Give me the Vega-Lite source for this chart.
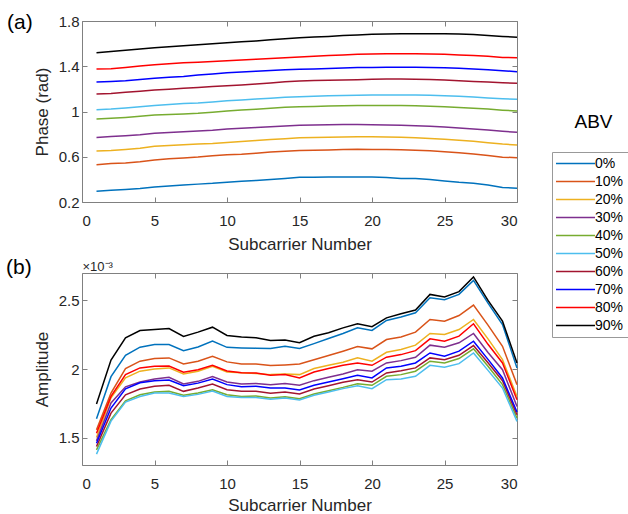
{
"$schema":"https://vega.github.io/schema/vega-lite/v6.json",
"padding":{"left":6,"top":12,"right":0,"bottom":0},
"config":{"font":"Liberation Sans","view":{"stroke":null},
"axis":{"domainColor":"#808080","tickColor":"#808080","labelColor":"#262626","titleColor":"#262626","labelFontSize":15,"titleFontSize":17,"titleFontWeight":"normal","grid":false,"tickSize":-5},
"concat":{"spacing":5}},
"datasets":{"d":[
{"g":"0%","x":1,"p":0.296,"a":1.637},{"g":"0%","x":2,"p":0.303,"a":1.944},{"g":"0%","x":3,"p":0.311,"a":2.1},{"g":"0%","x":4,"p":0.32,"a":2.159},{"g":"0%","x":5,"p":0.333,"a":2.178},{"g":"0%","x":6,"p":0.341,"a":2.178},{"g":"0%","x":7,"p":0.35,"a":2.134},{"g":"0%","x":8,"p":0.358,"a":2.161},{"g":"0%","x":9,"p":0.365,"a":2.203},{"g":"0%","x":10,"p":0.375,"a":2.158},{"g":"0%","x":11,"p":0.383,"a":2.154},{"g":"0%","x":12,"p":0.39,"a":2.152},{"g":"0%","x":13,"p":0.398,"a":2.15},{"g":"0%","x":14,"p":0.408,"a":2.166},{"g":"0%","x":15,"p":0.418,"a":2.15},{"g":"0%","x":16,"p":0.419,"a":2.185},{"g":"0%","x":17,"p":0.42,"a":2.222},{"g":"0%","x":18,"p":0.421,"a":2.259},{"g":"0%","x":19,"p":0.422,"a":2.3},{"g":"0%","x":20,"p":0.42,"a":2.281},{"g":"0%","x":21,"p":0.416,"a":2.354},{"g":"0%","x":22,"p":0.408,"a":2.379},{"g":"0%","x":23,"p":0.408,"a":2.41},{"g":"0%","x":24,"p":0.398,"a":2.52},{"g":"0%","x":25,"p":0.385,"a":2.505},{"g":"0%","x":26,"p":0.374,"a":2.544},{"g":"0%","x":27,"p":0.366,"a":2.646},{"g":"0%","x":28,"p":0.35,"a":2.48},{"g":"0%","x":29,"p":0.328,"a":2.324},{"g":"0%","x":30,"p":0.322,"a":2.008},
{"g":"10%","x":1,"p":0.529,"a":1.556},{"g":"10%","x":2,"p":0.54,"a":1.825},{"g":"10%","x":3,"p":0.545,"a":2.003},{"g":"10%","x":4,"p":0.556,"a":2.057},{"g":"10%","x":5,"p":0.571,"a":2.076},{"g":"10%","x":6,"p":0.582,"a":2.081},{"g":"10%","x":7,"p":0.59,"a":2.037},{"g":"10%","x":8,"p":0.597,"a":2.057},{"g":"10%","x":9,"p":0.608,"a":2.093},{"g":"10%","x":10,"p":0.618,"a":2.052},{"g":"10%","x":11,"p":0.622,"a":2.037},{"g":"10%","x":12,"p":0.632,"a":2.037},{"g":"10%","x":13,"p":0.642,"a":2.025},{"g":"10%","x":14,"p":0.648,"a":2.03},{"g":"10%","x":15,"p":0.655,"a":2.037},{"g":"10%","x":16,"p":0.658,"a":2.068},{"g":"10%","x":17,"p":0.66,"a":2.098},{"g":"10%","x":18,"p":0.663,"a":2.13},{"g":"10%","x":19,"p":0.667,"a":2.164},{"g":"10%","x":20,"p":0.665,"a":2.147},{"g":"10%","x":21,"p":0.664,"a":2.215},{"g":"10%","x":22,"p":0.662,"a":2.234},{"g":"10%","x":23,"p":0.658,"a":2.269},{"g":"10%","x":24,"p":0.652,"a":2.361},{"g":"10%","x":25,"p":0.644,"a":2.349},{"g":"10%","x":26,"p":0.636,"a":2.39},{"g":"10%","x":27,"p":0.625,"a":2.466},{"g":"10%","x":28,"p":0.612,"a":2.32},{"g":"10%","x":29,"p":0.596,"a":2.166},{"g":"10%","x":30,"p":0.592,"a":1.886},
{"g":"20%","x":1,"p":0.65,"a":1.5},{"g":"20%","x":2,"p":0.655,"a":1.79},{"g":"20%","x":3,"p":0.665,"a":1.935},{"g":"20%","x":4,"p":0.676,"a":1.984},{"g":"20%","x":5,"p":0.692,"a":2.0},{"g":"20%","x":6,"p":0.7,"a":2.008},{"g":"20%","x":7,"p":0.706,"a":1.964},{"g":"20%","x":8,"p":0.712,"a":1.984},{"g":"20%","x":9,"p":0.718,"a":2.02},{"g":"20%","x":10,"p":0.727,"a":1.978},{"g":"20%","x":11,"p":0.735,"a":1.972},{"g":"20%","x":12,"p":0.743,"a":1.967},{"g":"20%","x":13,"p":0.752,"a":1.959},{"g":"20%","x":14,"p":0.76,"a":1.964},{"g":"20%","x":15,"p":0.768,"a":1.959},{"g":"20%","x":16,"p":0.77,"a":2.003},{"g":"20%","x":17,"p":0.772,"a":2.027},{"g":"20%","x":18,"p":0.774,"a":2.049},{"g":"20%","x":19,"p":0.776,"a":2.081},{"g":"20%","x":20,"p":0.777,"a":2.057},{"g":"20%","x":21,"p":0.775,"a":2.122},{"g":"20%","x":22,"p":0.772,"a":2.142},{"g":"20%","x":23,"p":0.768,"a":2.174},{"g":"20%","x":24,"p":0.762,"a":2.259},{"g":"20%","x":25,"p":0.755,"a":2.251},{"g":"20%","x":26,"p":0.746,"a":2.288},{"g":"20%","x":27,"p":0.736,"a":2.361},{"g":"20%","x":28,"p":0.724,"a":2.22},{"g":"20%","x":29,"p":0.712,"a":2.068},{"g":"20%","x":30,"p":0.703,"a":1.8},
{"g":"30%","x":1,"p":0.771,"a":1.476},{"g":"30%","x":2,"p":0.778,"a":1.752},{"g":"30%","x":3,"p":0.786,"a":1.87},{"g":"30%","x":4,"p":0.795,"a":1.905},{"g":"30%","x":5,"p":0.807,"a":1.927},{"g":"30%","x":6,"p":0.815,"a":1.94},{"g":"30%","x":7,"p":0.822,"a":1.891},{"g":"30%","x":8,"p":0.828,"a":1.91},{"g":"30%","x":9,"p":0.835,"a":1.945},{"g":"30%","x":10,"p":0.845,"a":1.905},{"g":"30%","x":11,"p":0.852,"a":1.891},{"g":"30%","x":12,"p":0.858,"a":1.895},{"g":"30%","x":13,"p":0.866,"a":1.886},{"g":"30%","x":14,"p":0.872,"a":1.895},{"g":"30%","x":15,"p":0.878,"a":1.881},{"g":"30%","x":16,"p":0.88,"a":1.915},{"g":"30%","x":17,"p":0.882,"a":1.94},{"g":"30%","x":18,"p":0.884,"a":1.964},{"g":"30%","x":19,"p":0.884,"a":1.995},{"g":"30%","x":20,"p":0.883,"a":1.984},{"g":"30%","x":21,"p":0.881,"a":2.044},{"g":"30%","x":22,"p":0.878,"a":2.061},{"g":"30%","x":23,"p":0.874,"a":2.086},{"g":"30%","x":24,"p":0.869,"a":2.174},{"g":"30%","x":25,"p":0.863,"a":2.159},{"g":"30%","x":26,"p":0.855,"a":2.191},{"g":"30%","x":27,"p":0.846,"a":2.259},{"g":"30%","x":28,"p":0.836,"a":2.12},{"g":"30%","x":29,"p":0.825,"a":1.995},{"g":"30%","x":30,"p":0.816,"a":1.727},
{"g":"40%","x":1,"p":0.933,"a":1.41},{"g":"40%","x":2,"p":0.94,"a":1.63},{"g":"40%","x":3,"p":0.948,"a":1.768},{"g":"40%","x":4,"p":0.958,"a":1.812},{"g":"40%","x":5,"p":0.969,"a":1.832},{"g":"40%","x":6,"p":0.974,"a":1.837},{"g":"40%","x":7,"p":0.979,"a":1.808},{"g":"40%","x":8,"p":0.985,"a":1.825},{"g":"40%","x":9,"p":0.994,"a":1.849},{"g":"40%","x":10,"p":1.004,"a":1.812},{"g":"40%","x":11,"p":1.013,"a":1.8},{"g":"40%","x":12,"p":1.02,"a":1.803},{"g":"40%","x":13,"p":1.028,"a":1.788},{"g":"40%","x":14,"p":1.038,"a":1.798},{"g":"40%","x":15,"p":1.043,"a":1.783},{"g":"40%","x":16,"p":1.045,"a":1.818},{"g":"40%","x":17,"p":1.048,"a":1.842},{"g":"40%","x":18,"p":1.05,"a":1.866},{"g":"40%","x":19,"p":1.052,"a":1.893},{"g":"40%","x":20,"p":1.054,"a":1.881},{"g":"40%","x":21,"p":1.054,"a":1.947},{"g":"40%","x":22,"p":1.053,"a":1.959},{"g":"40%","x":23,"p":1.05,"a":1.984},{"g":"40%","x":24,"p":1.047,"a":2.057},{"g":"40%","x":25,"p":1.043,"a":2.044},{"g":"40%","x":26,"p":1.035,"a":2.076},{"g":"40%","x":27,"p":1.028,"a":2.147},{"g":"40%","x":28,"p":1.022,"a":2.02},{"g":"40%","x":29,"p":1.012,"a":1.886},{"g":"40%","x":30,"p":1.004,"a":1.642},
{"g":"50%","x":1,"p":1.015,"a":1.379},{"g":"50%","x":2,"p":1.022,"a":1.62},{"g":"50%","x":3,"p":1.032,"a":1.759},{"g":"50%","x":4,"p":1.043,"a":1.8},{"g":"50%","x":5,"p":1.054,"a":1.825},{"g":"50%","x":6,"p":1.062,"a":1.825},{"g":"50%","x":7,"p":1.07,"a":1.8},{"g":"50%","x":8,"p":1.076,"a":1.815},{"g":"50%","x":9,"p":1.085,"a":1.84},{"g":"50%","x":10,"p":1.095,"a":1.8},{"g":"50%","x":11,"p":1.102,"a":1.793},{"g":"50%","x":12,"p":1.11,"a":1.793},{"g":"50%","x":13,"p":1.118,"a":1.779},{"g":"50%","x":14,"p":1.125,"a":1.788},{"g":"50%","x":15,"p":1.131,"a":1.774},{"g":"50%","x":16,"p":1.135,"a":1.808},{"g":"50%","x":17,"p":1.139,"a":1.832},{"g":"50%","x":18,"p":1.142,"a":1.857},{"g":"50%","x":19,"p":1.144,"a":1.878},{"g":"50%","x":20,"p":1.145,"a":1.856},{"g":"50%","x":21,"p":1.146,"a":1.922},{"g":"50%","x":22,"p":1.146,"a":1.927},{"g":"50%","x":23,"p":1.145,"a":1.947},{"g":"50%","x":24,"p":1.143,"a":2.027},{"g":"50%","x":25,"p":1.14,"a":2.013},{"g":"50%","x":26,"p":1.135,"a":2.039},{"g":"50%","x":27,"p":1.128,"a":2.117},{"g":"50%","x":28,"p":1.12,"a":1.99},{"g":"50%","x":29,"p":1.113,"a":1.861},{"g":"50%","x":30,"p":1.108,"a":1.618},
{"g":"60%","x":1,"p":1.154,"a":1.435},{"g":"60%","x":2,"p":1.16,"a":1.678},{"g":"60%","x":3,"p":1.17,"a":1.812},{"g":"60%","x":4,"p":1.18,"a":1.854},{"g":"60%","x":5,"p":1.19,"a":1.874},{"g":"60%","x":6,"p":1.197,"a":1.881},{"g":"60%","x":7,"p":1.205,"a":1.837},{"g":"60%","x":8,"p":1.212,"a":1.861},{"g":"60%","x":9,"p":1.22,"a":1.891},{"g":"60%","x":10,"p":1.228,"a":1.849},{"g":"60%","x":11,"p":1.235,"a":1.837},{"g":"60%","x":12,"p":1.243,"a":1.837},{"g":"60%","x":13,"p":1.252,"a":1.823},{"g":"60%","x":14,"p":1.262,"a":1.832},{"g":"60%","x":15,"p":1.27,"a":1.818},{"g":"60%","x":16,"p":1.273,"a":1.854},{"g":"60%","x":17,"p":1.276,"a":1.878},{"g":"60%","x":18,"p":1.279,"a":1.903},{"g":"60%","x":19,"p":1.281,"a":1.922},{"g":"60%","x":20,"p":1.284,"a":1.905},{"g":"60%","x":21,"p":1.287,"a":1.971},{"g":"60%","x":22,"p":1.288,"a":1.988},{"g":"60%","x":23,"p":1.286,"a":2.008},{"g":"60%","x":24,"p":1.282,"a":2.081},{"g":"60%","x":25,"p":1.278,"a":2.068},{"g":"60%","x":26,"p":1.272,"a":2.1},{"g":"60%","x":27,"p":1.266,"a":2.171},{"g":"60%","x":28,"p":1.26,"a":2.045},{"g":"60%","x":29,"p":1.254,"a":1.915},{"g":"60%","x":30,"p":1.249,"a":1.666},
{"g":"70%","x":1,"p":1.26,"a":1.459},{"g":"70%","x":2,"p":1.265,"a":1.715},{"g":"70%","x":3,"p":1.272,"a":1.855},{"g":"70%","x":4,"p":1.282,"a":1.9},{"g":"70%","x":5,"p":1.293,"a":1.915},{"g":"70%","x":6,"p":1.302,"a":1.92},{"g":"70%","x":7,"p":1.31,"a":1.878},{"g":"70%","x":8,"p":1.322,"a":1.897},{"g":"70%","x":9,"p":1.332,"a":1.927},{"g":"70%","x":10,"p":1.343,"a":1.886},{"g":"70%","x":11,"p":1.35,"a":1.871},{"g":"70%","x":12,"p":1.356,"a":1.874},{"g":"70%","x":13,"p":1.363,"a":1.861},{"g":"70%","x":14,"p":1.369,"a":1.861},{"g":"70%","x":15,"p":1.373,"a":1.847},{"g":"70%","x":16,"p":1.376,"a":1.881},{"g":"70%","x":17,"p":1.38,"a":1.905},{"g":"70%","x":18,"p":1.385,"a":1.929},{"g":"70%","x":19,"p":1.388,"a":1.954},{"g":"70%","x":20,"p":1.39,"a":1.935},{"g":"70%","x":21,"p":1.391,"a":2.008},{"g":"70%","x":22,"p":1.392,"a":2.02},{"g":"70%","x":23,"p":1.391,"a":2.044},{"g":"70%","x":24,"p":1.389,"a":2.117},{"g":"70%","x":25,"p":1.387,"a":2.093},{"g":"70%","x":26,"p":1.382,"a":2.13},{"g":"70%","x":27,"p":1.376,"a":2.203},{"g":"70%","x":28,"p":1.368,"a":2.07},{"g":"70%","x":29,"p":1.36,"a":1.935},{"g":"70%","x":30,"p":1.352,"a":1.686},
{"g":"80%","x":1,"p":1.375,"a":1.532},{"g":"80%","x":2,"p":1.378,"a":1.8},{"g":"80%","x":3,"p":1.39,"a":1.959},{"g":"80%","x":4,"p":1.403,"a":2.008},{"g":"80%","x":5,"p":1.414,"a":2.02},{"g":"80%","x":6,"p":1.422,"a":2.022},{"g":"80%","x":7,"p":1.43,"a":1.976},{"g":"80%","x":8,"p":1.436,"a":1.995},{"g":"80%","x":9,"p":1.442,"a":2.027},{"g":"80%","x":10,"p":1.449,"a":1.986},{"g":"80%","x":11,"p":1.455,"a":1.972},{"g":"80%","x":12,"p":1.462,"a":1.97},{"g":"80%","x":13,"p":1.468,"a":1.954},{"g":"80%","x":14,"p":1.475,"a":1.959},{"g":"80%","x":15,"p":1.482,"a":1.935},{"g":"80%","x":16,"p":1.488,"a":1.978},{"g":"80%","x":17,"p":1.494,"a":2.003},{"g":"80%","x":18,"p":1.5,"a":2.027},{"g":"80%","x":19,"p":1.505,"a":2.044},{"g":"80%","x":20,"p":1.508,"a":2.027},{"g":"80%","x":21,"p":1.51,"a":2.086},{"g":"80%","x":22,"p":1.511,"a":2.105},{"g":"80%","x":23,"p":1.51,"a":2.134},{"g":"80%","x":24,"p":1.508,"a":2.22},{"g":"80%","x":25,"p":1.506,"a":2.203},{"g":"80%","x":26,"p":1.5,"a":2.24},{"g":"80%","x":27,"p":1.494,"a":2.33},{"g":"80%","x":28,"p":1.488,"a":2.18},{"g":"80%","x":29,"p":1.478,"a":2.044},{"g":"80%","x":30,"p":1.476,"a":1.776},
{"g":"90%","x":1,"p":1.52,"a":1.744},{"g":"90%","x":2,"p":1.531,"a":2.065},{"g":"90%","x":3,"p":1.541,"a":2.227},{"g":"90%","x":4,"p":1.552,"a":2.281},{"g":"90%","x":5,"p":1.564,"a":2.288},{"g":"90%","x":6,"p":1.573,"a":2.295},{"g":"90%","x":7,"p":1.582,"a":2.237},{"g":"90%","x":8,"p":1.59,"a":2.269},{"g":"90%","x":9,"p":1.598,"a":2.305},{"g":"90%","x":10,"p":1.608,"a":2.245},{"g":"90%","x":11,"p":1.616,"a":2.234},{"g":"90%","x":12,"p":1.624,"a":2.227},{"g":"90%","x":13,"p":1.634,"a":2.207},{"g":"90%","x":14,"p":1.644,"a":2.212},{"g":"90%","x":15,"p":1.652,"a":2.191},{"g":"90%","x":16,"p":1.658,"a":2.239},{"g":"90%","x":17,"p":1.664,"a":2.264},{"g":"90%","x":18,"p":1.672,"a":2.3},{"g":"90%","x":19,"p":1.677,"a":2.33},{"g":"90%","x":20,"p":1.682,"a":2.308},{"g":"90%","x":21,"p":1.685,"a":2.373},{"g":"90%","x":22,"p":1.687,"a":2.403},{"g":"90%","x":23,"p":1.688,"a":2.43},{"g":"90%","x":24,"p":1.688,"a":2.544},{"g":"90%","x":25,"p":1.688,"a":2.525},{"g":"90%","x":26,"p":1.685,"a":2.564},{"g":"90%","x":27,"p":1.68,"a":2.671},{"g":"90%","x":28,"p":1.672,"a":2.5},{"g":"90%","x":29,"p":1.664,"a":2.349},{"g":"90%","x":30,"p":1.656,"a":2.044}
]},
"vconcat":[
{"width":435,"height":181,
"title":{"text":"(a)","anchor":"start","frame":"group","fontSize":21,"fontWeight":"normal","color":"#000","dx":-75,"offset":-10,"dy":9},
"data":{"name":"d"},
"layer":[
{"mark":{"type":"line","strokeWidth":1.5},
"encoding":{
"x":{"field":"x","type":"quantitative","scale":{"domain":[0,30],"nice":false},"axis":{"values":[0,5,10,15,20,25,30],"title":"Subcarrier Number","labelPadding":16,"titlePadding":8}},
"y":{"field":"p","type":"quantitative","scale":{"domain":[0.2,1.8],"nice":false,"zero":false},"axis":{"values":[0.2,0.6,1,1.4,1.8],"format":".1~f","title":"Phase (rad)","labelPadding":8,"titlePadding":7}},
"color":{"field":"g","type":"nominal","sort":null,"scale":{"domain":["0%","10%","20%","30%","40%","50%","60%","70%","80%","90%"],"range":["#0072BD","#D95319","#EDB120","#7E2F8E","#77AC30","#4DBEEE","#A2142F","#0000FF","#FF0000","#000000"]},
"legend":{"orient":"none","legendX":470,"legendY":131,"title":null,"symbolType":"M-3,0H3","symbolSize":169,"symbolStrokeWidth":1.5,"labelFontSize":14,"labelColor":"#000","rowPadding":3,"padding":4,"strokeColor":"#999","fillColor":"white","symbolOffset":12,"labelOffset":12,"labelLimit":200}}}},
{"mark":{"type":"point","opacity":0},
"encoding":{
"x":{"field":"x","type":"quantitative","scale":{"domain":[0,30],"nice":false},"axis":{"orient":"top","values":[0,5,10,15,20,25,30],"labels":false,"title":null}},
"y":{"field":"p","type":"quantitative","scale":{"domain":[0.2,1.8],"nice":false,"zero":false},"axis":{"orient":"right","values":[0.2,0.6,1,1.4,1.8],"labels":false,"title":"ABV","titleAngle":0,"titleFontSize":19,"titleColor":"#000","titleAlign":"center","titleBaseline":"alphabetic","titleX":76,"titleY":106}}}}
],
"resolve":{"scale":{"x":"independent","y":"independent"},"axis":{"x":"independent","y":"independent"}}},
{"width":435,"height":192,
"title":{"text":"(b)","anchor":"start","frame":"group","fontSize":21,"fontWeight":"normal","color":"#000","dx":-76,"offset":-5,"dy":13},
"data":{"name":"d"},
"layer":[
{"mark":{"type":"line","strokeWidth":1.5},
"encoding":{
"x":{"field":"x","type":"quantitative","scale":{"domain":[0,30],"nice":false},"axis":{"values":[0,5,10,15,20,25,30],"title":"Subcarrier Number","labelPadding":16,"titlePadding":6}},
"y":{"field":"a","type":"quantitative","scale":{"domain":[1.3,2.7],"nice":false,"zero":false},"axis":{"values":[1.5,2,2.5],"format":".1~f","title":"Amplitude","labelPadding":8,"titlePadding":7}},
"color":{"field":"g","type":"nominal","sort":null}}},
{"mark":{"type":"point","opacity":0},
"encoding":{
"x":{"field":"x","type":"quantitative","scale":{"domain":[0,30],"nice":false},"axis":{"orient":"top","values":[0,5,10,15,20,25,30],"labels":false,"title":"×10⁻³","titleAngle":0,"titleFontSize":13,"titleAlign":"left","titleBaseline":"alphabetic","titleX":0,"titleY":-3}},
"y":{"field":"a","type":"quantitative","scale":{"domain":[1.3,2.7],"nice":false,"zero":false},"axis":{"orient":"right","values":[1.5,2,2.5],"labels":false,"title":null}}}}
],
"resolve":{"scale":{"x":"independent","y":"independent"},"axis":{"x":"independent","y":"independent"}}}
]
}
